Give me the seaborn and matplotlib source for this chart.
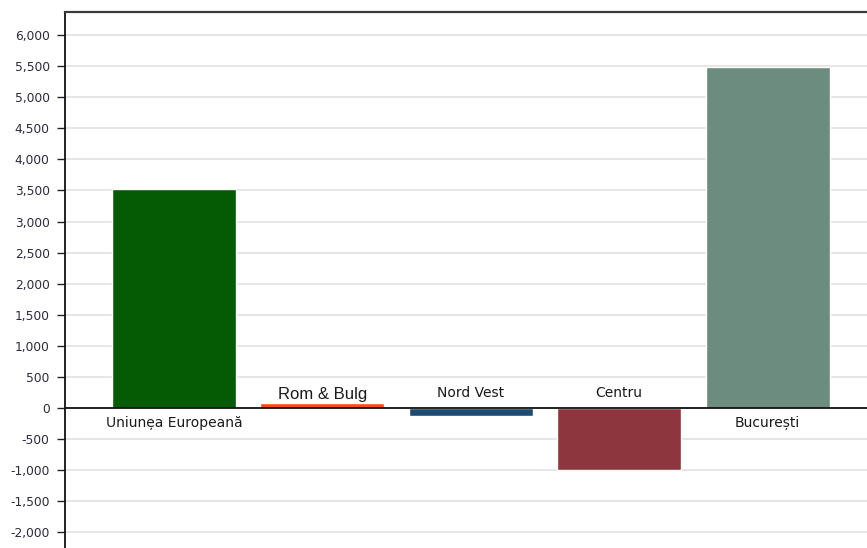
import matplotlib
matplotlib.use('Agg')
import pandas as pd
import matplotlib.pyplot as plt
import seaborn as sns

# chart data
regions = ['Uniune\u0326a Europeană', 'Rom & Bulg', 'Nord Vest', 'Centru', 'București']
values = [3520, 80, -130, -990, 5480]
colors = ['#045b04', '#ff4a12', '#1f4b73', '#8e363d', '#6c8c80']
yticks = list(range(-2000, 6001, 500))

df = pd.DataFrame({'region': regions, 'value': values})

sns.set_style('white')
plt.rcParams['font.family'] = ['DejaVu Sans']

fig = plt.figure(figsize=(8.67, 5.48), dpi=100)
ax = fig.add_axes([65 / 867, 0.0, 1 - 65 / 867, 1 - 12 / 548])

sns.barplot(data=df, x='region', y='value', hue='region', palette=colors,
            width=0.836, legend=False, saturation=1, ax=ax)

ax.set_xlim(-0.734, 4.67)
ax.set_ylim(-2252, 6370)
ax.set_yticks(yticks)
ax.set_yticklabels([f'{t:,}' for t in yticks], fontsize=8.8, color='#2b2b3b')
ax.tick_params(axis='y', length=6, width=1, color='#222222', pad=5, left=True)
ax.set_xticks([])
ax.set_xlabel('')
ax.set_ylabel('')
ax.grid(axis='y', color='#e2e2e2', linewidth=1.2)
ax.set_axisbelow(True)

ax.axhline(0, color='#111111', linewidth=1.3, zorder=3)

for s in ['right', 'bottom']:
    ax.spines[s].set_visible(False)
ax.spines['left'].set_color('#111111')
ax.spines['left'].set_linewidth(1.3)
ax.spines['top'].set_color('#3a3a3a')
ax.spines['top'].set_linewidth(1.6)

# category labels next to the zero line
for i, (name, v) in enumerate(zip(regions, values)):
    if name == 'Rom & Bulg':
        ax.annotate(name, (i, 0), xytext=(0, 4), textcoords='offset points',
                    ha='center', va='bottom', fontsize=12, color='#1a1a1a',
                    family=['Liberation Sans'])
    elif v > 1000:
        ax.annotate(name, (i, 0), xytext=(0, -6), textcoords='offset points',
                    ha='center', va='top', fontsize=10, color='#1a1a1a')
    else:
        ax.annotate(name, (i, 0), xytext=(0, 6), textcoords='offset points',
                    ha='center', va='bottom', fontsize=10, color='#1a1a1a')

plt.savefig('out.png', dpi=100)
